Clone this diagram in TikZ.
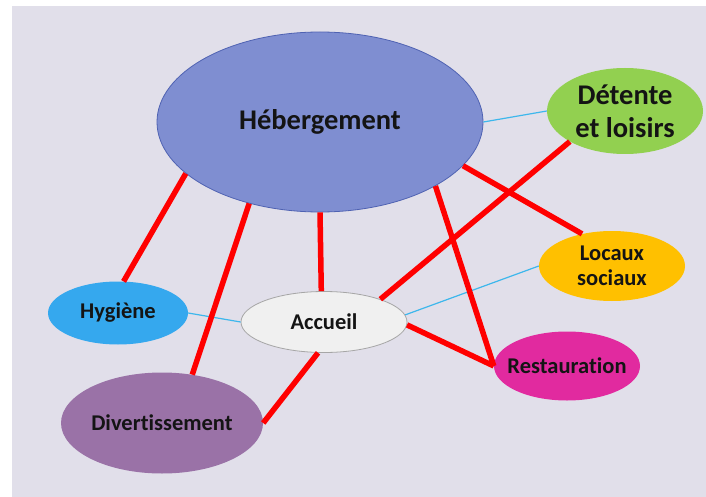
\documentclass[tikz,border=0pt]{standalone}
\usepackage{fontspec}
\setmainfont[Ligatures={NoCommon}]{Carlito}
\usetikzlibrary{shapes.geometric}
\definecolor{bgc}{HTML}{E1DFEA}
\definecolor{hebc}{HTML}{7F8ED1}
\definecolor{hebb}{HTML}{4F62B2}
\definecolor{detc}{HTML}{92D050}
\definecolor{locc}{HTML}{FFC000}
\definecolor{hygc}{HTML}{35A8EE}
\definecolor{accc}{HTML}{F0F0F0}
\definecolor{accb}{HTML}{A6A6A6}
\definecolor{divc}{HTML}{9A72A7}
\definecolor{resc}{HTML}{E12A9F}
\definecolor{linkblue}{HTML}{3DB7EC}
\definecolor{txt}{HTML}{141414}
\begin{document}
\begin{tikzpicture}[x=1pt,y=-1pt,
  blob/.style={ellipse, inner sep=-8pt, text=txt, align=center,
    font=\bfseries\fontsize{22.5}{25}\selectfont},
  bigtext/.style={font=\bfseries\fontsize{28.5}{33}\selectfont},
  strong/.style={draw=red, line width=5.5pt},
  weak/.style={draw=linkblue, line width=1.2pt}]
\useasboundingbox (0,0) rectangle (706,497);
\fill[white] (0,0) rectangle (706,497);
\fill[bgc] (12,6) rectangle (706,497);

\node[blob, bigtext, fill=hebc, draw=hebb, line width=0.8pt,
  minimum width=326pt, minimum height=180pt] (heb) at (320,122) {Hébergement};
\node[blob, bigtext, fill=detc, minimum width=156pt, minimum height=86pt,
  inner sep=-10pt] (det) at (625,111) {Détente\\et loisirs};
\node[blob, fill=locc, minimum width=146pt, minimum height=70pt] (loc) at (612,266) {Locaux\\sociaux};
\node[blob, fill=hygc, minimum width=140pt, minimum height=63pt] (hyg) at (118,313) {Hygiène};
\node[blob, fill=accc, draw=accb, line width=0.8pt,
  minimum width=166pt, minimum height=61pt] (acc) at (324,322) {Accueil};
\node[blob, fill=divc, minimum width=202pt, minimum height=101pt] (div) at (162,423) {Divertissement};
\node[blob, fill=resc, minimum width=146pt, minimum height=69pt,
  inner xsep=-14pt] (res) at (567,366) {Restauration};

\draw[weak] (heb.0) -- (det.180);
\draw[weak] (hyg.0) -- (acc.180);
\draw[weak] (acc.5) -- (loc.180);

\draw[strong] (heb.201) -- (hyg.80);
\draw[strong] (heb.229) -- (div.58);
\draw[strong] (heb.270) -- (acc.95);
\draw[strong] (heb.343) -- (loc.133);
\draw[strong] (heb.331) -- (res.180);
\draw[strong] (det.209) -- (acc.22);
\draw[strong] (acc.-2) -- (res.180);
\draw[strong] (acc.259) -- (div.0);
\end{tikzpicture}
\end{document}
